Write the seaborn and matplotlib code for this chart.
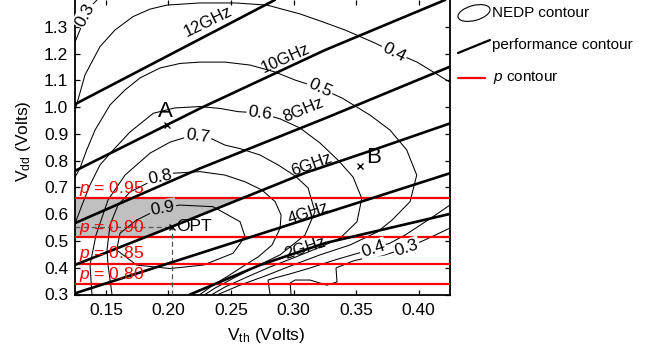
import numpy as np
import pandas as pd
import matplotlib
matplotlib.use("Agg")
import matplotlib.pyplot as plt
import seaborn as sns
from matplotlib.patches import Ellipse
from matplotlib.lines import Line2D

# ---------------- data ----------------
# NEDP contours: (Vth, Vdd) polylines
nedp_03_upper_vth = [0.125, 0.1293, 0.1333, 0.1389, 0.1429]
nedp_03_upper_vdd = [1.239, 1.288, 1.344, 1.381, 1.400]
nedp_04_upper_vth = [0.125, 0.1333, 0.1453, 0.1573, 0.1717, 0.1853, 0.1988, 0.2252, 0.2532,
                     0.2788, 0.3051, 0.3211, 0.3411, 0.3651, 0.3803, 0.3987, 0.425]
nedp_04_upper_vdd = [0.982, 1.120, 1.226, 1.288, 1.338, 1.366, 1.381, 1.389, 1.389,
                     1.381, 1.348, 1.322, 1.288, 1.239, 1.205, 1.168, 1.093]
nedp_05_vth = [0.125, 0.1293, 0.1347, 0.1413, 0.1533, 0.1653, 0.1773, 0.1932, 0.2092, 0.2252,
               0.2452, 0.2652, 0.2852, 0.3012, 0.3211, 0.3387, 0.3611, 0.3771, 0.3904, 0.3984,
               0.3931, 0.3787, 0.3667, 0.3451, 0.3211, 0.2972, 0.2772, 0.2572, 0.2396]
nedp_05_vdd = [0.735, 0.772, 0.840, 0.914, 1.008, 1.064, 1.109, 1.146, 1.163, 1.168,
               1.168, 1.157, 1.131, 1.101, 1.071, 1.034, 0.970, 0.914, 0.840, 0.746,
               0.647, 0.578, 0.533, 0.485, 0.448, 0.406, 0.369, 0.335, 0.300]
nedp_06_vth = [0.125, 0.1309, 0.1373, 0.1453, 0.1559, 0.1693, 0.1879, 0.2053, 0.2252, 0.2412,
               0.2556, 0.2732, 0.2892, 0.3051, 0.3211, 0.3355, 0.3475, 0.3545, 0.3507, 0.3371,
               0.3211, 0.3012, 0.2812, 0.2612, 0.2452, 0.2348]
nedp_06_vdd = [0.560, 0.634, 0.709, 0.784, 0.840, 0.907, 0.977, 0.997, 1.002, 0.995,
               0.983, 0.978, 0.956, 0.922, 0.866, 0.802, 0.739, 0.659, 0.572, 0.510,
               0.477, 0.439, 0.403, 0.362, 0.328, 0.300]
nedp_07_vth = [0.1389, 0.1373, 0.1421, 0.1517, 0.1653, 0.1853, 0.2012, 0.2132, 0.2236, 0.2348,
               0.2452, 0.2572, 0.2732, 0.2876, 0.3012, 0.3116, 0.3171, 0.3091, 0.2892, 0.2692,
               0.2508, 0.2372, 0.2292]
nedp_07_vdd = [0.300, 0.410, 0.522, 0.653, 0.746, 0.828, 0.869, 0.886, 0.892, 0.881,
               0.858, 0.845, 0.821, 0.784, 0.743, 0.698, 0.609, 0.522, 0.448, 0.403,
               0.358, 0.324, 0.300]
nedp_08_vth = [0.1549, 0.1517, 0.1509, 0.1533, 0.1597, 0.1693, 0.1853, 0.1932, 0.2036, 0.2252,
               0.2452, 0.2612, 0.2748, 0.2852, 0.2900, 0.2892, 0.2828, 0.2716, 0.2612, 0.2476,
               0.2348, 0.2252]
nedp_08_vdd = [0.300, 0.410, 0.466, 0.560, 0.634, 0.683, 0.721, 0.739, 0.753, 0.759,
               0.746, 0.721, 0.690, 0.647, 0.597, 0.547, 0.485, 0.440, 0.410, 0.369,
               0.332, 0.300]
nedp_09_vth = [0.1746, 0.1853, 0.1932, 0.2092, 0.2356, 0.2572, 0.2612, 0.2516, 0.2279, 0.2012,
               0.1746, 0.1586, 0.1613, 0.1746]
nedp_09_vdd = [0.578, 0.603, 0.622, 0.634, 0.628, 0.572, 0.516, 0.454, 0.410, 0.397,
               0.410, 0.466, 0.529, 0.578]
nedp_04_lower_vth = [0.425, 0.4074, 0.3891, 0.3771, 0.3635, 0.3491, 0.3331, 0.3131, 0.2972,
                     0.2852, 0.2796, 0.2812]
nedp_04_lower_vdd = [0.634, 0.578, 0.522, 0.492, 0.470, 0.451, 0.429, 0.399, 0.377,
                     0.362, 0.354, 0.300]
nedp_03_lower_vth = [0.425, 0.4050, 0.3904, 0.3731, 0.3571, 0.3475, 0.3339, 0.3347, 0.3267,
                     0.3131, 0.3012, 0.2972, 0.2980]
nedp_03_lower_vdd = [0.548, 0.504, 0.474, 0.448, 0.436, 0.425, 0.399, 0.347, 0.335,
                     0.354, 0.354, 0.343, 0.300]

# performance contours (GHz)
perf_12_vth = [0.125, 0.285]
perf_12_vdd = [1.010, 1.400]
perf_10_vth = [0.125, 0.2252, 0.3251, 0.421]
perf_10_vdd = [0.761, 0.995, 1.213, 1.400]
perf_8_vth = [0.125, 0.2252, 0.3251, 0.425]
perf_8_vdd = [0.566, 0.771, 0.958, 1.151]
perf_6_vth = [0.125, 0.2026, 0.3091, 0.3637, 0.425]
perf_6_vdd = [0.410, 0.553, 0.754, 0.840, 0.939]
perf_4_vth = [0.125, 0.425]
perf_4_vdd = [0.304, 0.753]
perf_2_vth = [0.2172, 0.2732, 0.3251, 0.425]
perf_2_vdd = [0.300, 0.410, 0.492, 0.601]

# p contours (yield)
p_values = [0.95, 0.90, 0.85, 0.80]
p_vdd = [0.659, 0.513, 0.414, 0.338]

# marked points
opt_point = (0.203, 0.553)
a_point = (0.1986, 0.933)
b_point = (0.3531, 0.780)

x_ticks = [0.15, 0.20, 0.25, 0.30, 0.35, 0.40]
y_ticks = [0.3, 0.4, 0.5, 0.6, 0.7, 0.8, 0.9, 1.0, 1.1, 1.2, 1.3]

# ---------------- style ----------------
sns.set_style("ticks")
plt.rcParams["font.family"] = ["Liberation Sans", "DejaVu Sans"]
plt.rcParams["mathtext.fontset"] = "custom"
plt.rcParams["mathtext.rm"] = "Liberation Sans"
plt.rcParams["mathtext.it"] = "Liberation Sans:italic"
for k in ("text.color", "axes.labelcolor", "xtick.color", "ytick.color", "axes.edgecolor"):
    plt.rcParams[k] = "black"

fig = plt.figure(figsize=(6.52, 3.56), dpi=100)
ax = fig.add_axes([74.6 / 652, 61.5 / 356, 375.4 / 652, 294.5 / 356])


def long_df(named):
    rows = []
    for name, (xs, ys) in named.items():
        for x, y in zip(xs, ys):
            rows.append({"seg": name, "Vth": x, "Vdd": y})
    return pd.DataFrame(rows)


nedp = long_df({
    "03u": (nedp_03_upper_vth, nedp_03_upper_vdd),
    "04u": (nedp_04_upper_vth, nedp_04_upper_vdd),
    "05": (nedp_05_vth, nedp_05_vdd),
    "06": (nedp_06_vth, nedp_06_vdd),
    "07": (nedp_07_vth, nedp_07_vdd),
    "08": (nedp_08_vth, nedp_08_vdd),
    "09": (nedp_09_vth, nedp_09_vdd),
    "04l": (nedp_04_lower_vth, nedp_04_lower_vdd),
    "03l": (nedp_03_lower_vth, nedp_03_lower_vdd),
})
perf = long_df({
    "12": (perf_12_vth, perf_12_vdd),
    "10": (perf_10_vth, perf_10_vdd),
    "8": (perf_8_vth, perf_8_vdd),
    "6": (perf_6_vth, perf_6_vdd),
    "4": (perf_4_vth, perf_4_vdd),
    "2": (perf_2_vth, perf_2_vdd),
})

GRAY = "#c0c0c0"
# gray feasible region: between p=0.90 and p=0.95, above 6GHz line
yy = np.linspace(p_vdd[1], p_vdd[0], 60)
xx = np.interp(yy, perf_6_vdd, perf_6_vth)
ax.fill_betweenx(yy, 0.125, xx, color=GRAY, lw=0, zorder=1)

sns.lineplot(data=nedp, x="Vth", y="Vdd", units="seg", estimator=None, sort=False,
             color="black", lw=0.75, ax=ax, zorder=2, legend=False)
sns.lineplot(data=perf, x="Vth", y="Vdd", units="seg", estimator=None, sort=False,
             color="black", lw=1.9, ax=ax, zorder=4, legend=False)

for v in p_vdd:
    ax.axhline(v, color="#ff0000", lw=1.6, zorder=3)
for pv, v in zip(p_values, p_vdd):
    ax.text(0.1285, v + 0.003, r"$p$ = %.2f" % pv, color="#ff0000", fontsize=12.5,
            ha="left", va="bottom", zorder=6)

# dashed guide to OPT
ax.plot([0.125, opt_point[0]], [opt_point[1], opt_point[1]], ls=(0, (4, 2.5)), color="#555555",
        lw=0.9, zorder=3)
ax.plot([opt_point[0], opt_point[0]], [0.3, opt_point[1]], ls=(0, (4, 2.5)), color="#555555",
        lw=0.9, zorder=3)

for pt in (opt_point, a_point, b_point):
    ax.plot(pt[0], pt[1], marker="x", color="black", ms=5, mew=1.0, zorder=6)
ax.text(opt_point[0] + 0.003, opt_point[1], "OPT", fontsize=12.5, ha="left", va="center", zorder=6)
ax.text(a_point[0] - 0.0014, a_point[1] + 0.052, "A", fontsize=16, ha="center", va="center", zorder=6)
ax.text(b_point[0] + 0.011, b_point[1] + 0.030, "B", fontsize=16, ha="center", va="center", zorder=6)

# NEDP contour labels
nedp_labels = [("0.3", 0.1333, 1.344, 62, "white"), ("0.4", 0.3803, 1.205, -27, "white"),
               ("0.5", 0.3211, 1.071, -25, "white"), ("0.6", 0.2732, 0.978, -8, "white"),
               ("0.7", 0.2236, 0.892, -8, "white"), ("0.8", 0.1932, 0.739, 12, "white"),
               ("0.9", 0.1956, 0.622, 10, GRAY), ("0.4", 0.3635, 0.470, 18, "white"),
               ("0.3", 0.3904, 0.474, 18, "white")]
for s, x, y, r, bg in nedp_labels:
    ax.text(x, y, s, fontsize=12.5, ha="center", va="center", rotation=r,
            rotation_mode="anchor",
            bbox=dict(boxstyle="square,pad=0.08", fc=bg, ec="none"), zorder=3)

# performance labels
perf_labels = [("12GHz", 0.2316, 1.318, 26), ("10GHz", 0.2932, 1.183, 24),
               ("8GHz", 0.3075, 0.989, 22), ("6GHz", 0.3147, 0.787, 20),
               ("4GHz", 0.3115, 0.604, 18), ("2GHz", 0.3091, 0.474, 18)]
for s, x, y, r in perf_labels:
    ax.text(x, y, s, fontsize=12, ha="center", va="center", rotation=r,
            rotation_mode="anchor", zorder=5)

ax.set_xlim(0.125, 0.425)
ax.set_ylim(0.3, 1.4)
ax.set_xticks(x_ticks)
ax.set_xticklabels(["%.2f" % t for t in x_ticks])
ax.set_yticks(y_ticks)
ax.set_yticklabels(["%.1f" % t for t in y_ticks])
ax.tick_params(direction="in", top=True, right=True, length=3.5, width=0.9,
               labelsize=12.5, colors="black")
ax.tick_params(axis="x", pad=6)
ax.tick_params(axis="y", pad=4.5)
for side in ("left", "bottom", "right"):
    ax.spines[side].set_linewidth(1.3)
    ax.spines[side].set_color("black")
ax.spines["top"].set_visible(False)

ax.set_xlabel(r"V$_{\rm th}$ (Volts)", fontsize=12.5)
ax.set_ylabel(r"V$_{\rm dd}$ (Volts)", fontsize=12.5)
ax.xaxis.set_label_coords(0.511, -0.108)
ax.yaxis.set_label_coords(-0.112, 0.52)

# legend (outside, right)
tr = fig.dpi_scale_trans
fig.patches.append(Ellipse((4.74, 3.43), 0.33, 0.15, angle=15, fill=False, ec="black",
                           lw=0.8, transform=tr, figure=fig))
fig.lines.append(Line2D([4.58, 4.90], [3.03, 3.16], color="black", lw=1.6, transform=tr, figure=fig))
fig.lines.append(Line2D([4.58, 4.85], [2.78, 2.78], color="#ff0000", lw=1.6, transform=tr, figure=fig))
fig.text(4.92, 3.43, "NEDP contour", fontsize=11, ha="left", va="center", transform=tr)
fig.text(4.92, 3.11, "performance contour", fontsize=11, ha="left", va="center", transform=tr)
fig.text(4.93, 2.79, r"$p$ contour", fontsize=11, ha="left", va="center", transform=tr)

fig.savefig("out.png", dpi=100)
